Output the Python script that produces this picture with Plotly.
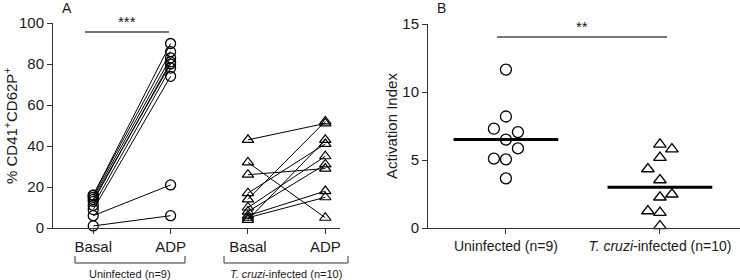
import numpy as np
import plotly.graph_objects as go

# ---- Panel A data (paired % CD41+CD62P+) ----
unin_basal = [16, 16, 15, 14, 13, 11, 9, 6, 1]
unin_adp = [90, 86, 83, 80, 81, 78, 74, 21, 6]
tc_basal = [43, 32, 26, 17, 14, 10, 8, 6, 5, 4]
tc_adp = [51, 5, 29, 41, 52, 35, 31, 18, 15, 43]
a_ticklabels = ["Basal", "ADP", "Basal", "ADP"]

# ---- Panel B data (activation index) ----
b_categories = ["Uninfected (n=9)", "<i>T. cruzi</i>-infected (n=10)"]
unin_ai = [11.65, 8.2, 7.3, 7.05, 6.5, 5.85, 5.1, 5.05, 3.65]
unin_col = [0, 0, -1, 1, 0, 1, -1, 0, 0]
tc_ai = [6.15, 5.8, 5.17, 4.34, 3.53, 2.26, 2.48, 1.25, 1.13, 0.15]
tc_col = [0, 1, 0, -1, 0, 0, 1, -1, 0, 0]

W, H = 740, 280
FONT = "Liberation Sans, Arial, sans-serif"
INK = "#1a1a1a"
COLW = 0.078

fig = go.Figure()

circ = dict(symbol="circle-open", size=10, color="black", line=dict(width=1.3, color="black"))
tri = dict(symbol="triangle-up-open", size=10, color="black", line=dict(width=1.2, color="black"))

for b, a in zip(unin_basal, unin_adp):
    fig.add_trace(go.Scatter(x=[0, 1], y=[b, a], mode="lines+markers",
                             line=dict(color="black", width=1), marker=circ,
                             cliponaxis=False, showlegend=False, xaxis="x", yaxis="y"))
for b, a in zip(tc_basal, tc_adp):
    fig.add_trace(go.Scatter(x=[2, 3], y=[b, a], mode="lines+markers",
                             line=dict(color="black", width=1), marker=tri,
                             cliponaxis=False, showlegend=False, xaxis="x", yaxis="y"))

# Panel B scatter
fig.add_trace(go.Scatter(x=[0 + c * COLW for c in unin_col], y=unin_ai, mode="markers",
                         marker=dict(symbol="circle-open", size=11, color="black", line=dict(width=1.3)),
                         cliponaxis=False, showlegend=False, xaxis="x2", yaxis="y2"))
fig.add_trace(go.Scatter(x=[1 + c * COLW for c in tc_col], y=tc_ai, mode="markers",
                         marker=dict(symbol="triangle-up-open", size=11, color="black", line=dict(width=1.3)),
                         cliponaxis=False, showlegend=False, xaxis="x2", yaxis="y2"))
for i, vals in enumerate([unin_ai, tc_ai]):
    m = float(np.median(vals))
    fig.add_trace(go.Scatter(x=[i - 0.34, i + 0.34], y=[m, m], mode="lines",
                             line=dict(color="black", width=3), showlegend=False,
                             xaxis="x2", yaxis="y2"))

def px(x):
    return x / W

def py(y):
    return 1 - y / H

axis_common = dict(showgrid=False, zeroline=False, showline=True, linecolor="#333", linewidth=1,
                   ticks="outside", ticklen=5, tickcolor="#333", automargin=False,
                   tickfont=dict(family=FONT, size=15, color=INK))

fig.update_layout(
    template="none",
    width=W, height=H, margin=dict(l=0, r=0, t=0, b=0, autoexpand=False),
    paper_bgcolor="white", plot_bgcolor="white",
    xaxis=dict(domain=[px(53), px(340)], range=[-0.52, 3.19], tickvals=[0, 1, 2, 3],
               ticktext=a_ticklabels, anchor="y", **axis_common),
    yaxis=dict(domain=[py(228), py(23)], range=[0, 100], tickvals=[0, 20, 40, 60, 80, 100],
               anchor="x", **axis_common),
    xaxis2=dict(domain=[px(428), 1.0], range=[-0.506, 1.52], tickvals=[0, 1],
                ticktext=b_categories, anchor="y2", **axis_common),
    yaxis2=dict(domain=[py(228), py(24)], range=[0, 15], tickvals=[0, 5, 10, 15],
                anchor="x2", **axis_common),
)
fig.layout.xaxis2.tickfont.size = 14

shapes = []
# significance bars
shapes.append(dict(type="line", xref="paper", yref="paper", x0=px(85), x1=px(169), y0=py(32), y1=py(32),
                   line=dict(color="#777", width=2)))
shapes.append(dict(type="line", xref="paper", yref="paper", x0=px(497), x1=px(667), y0=py(37), y1=py(37),
                   line=dict(color="#777", width=2)))
# group brackets under panel A
for x0, x1 in [(75, 185), (224, 348)]:
    shapes.append(dict(type="path", xref="paper", yref="paper",
                       path=f"M {px(x0)} {py(256)} L {px(x0)} {py(263)} L {px(x1)} {py(263)} L {px(x1)} {py(256)}",
                       line=dict(color="#333", width=1)))
fig.update_layout(shapes=shapes)

ann = [
    dict(x=px(127), y=py(22), text="***", font=dict(size=15)),
    dict(x=px(582), y=py(26), text="**", font=dict(size=15)),
    dict(x=px(130), y=py(274), text="Uninfected (n=9)", font=dict(size=11)),
    dict(x=px(286), y=py(274), text="<i>T. cruzi</i>-infected (n=10)", font=dict(size=11)),
    dict(x=px(67), y=py(8), text="A", font=dict(size=14)),
    dict(x=px(441), y=py(8), text="B", font=dict(size=14)),
    dict(x=px(11), y=py(126), text="% CD41<sup>+</sup>CD62P<sup>+</sup>", font=dict(size=15), textangle=-90),
    dict(x=px(392), y=py(126), text="Activation Index", font=dict(size=15), textangle=-90),
]
for a in ann:
    a.update(xref="paper", yref="paper", showarrow=False, xanchor="center", yanchor="middle")
    a["font"].update(family=FONT, color=INK)
fig.update_layout(annotations=ann)

fig.write_html("out.html", config={"displayModeBar": False},
               post_script="document.body.style.margin='0';document.body.style.overflow='hidden';")
